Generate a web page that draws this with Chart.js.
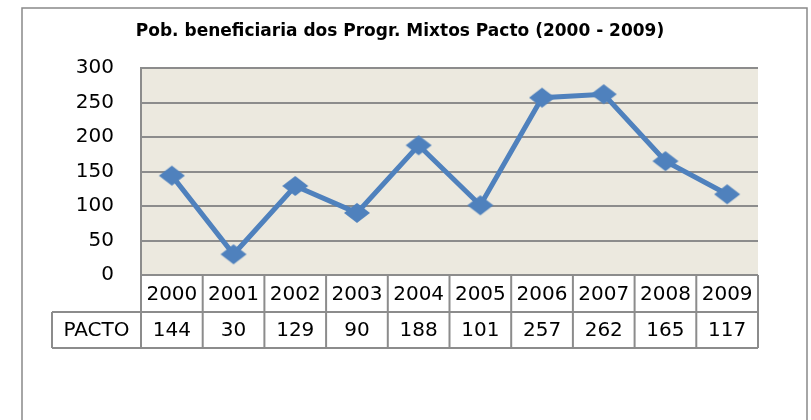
<!DOCTYPE html>
<html>
<head>
<meta charset="utf-8">
<script src="https://cdn.jsdelivr.net/npm/chart.js@4"></script>
<style>
  body { margin: 0; background: #fff; }
  canvas { display: block; }
</style>
</head>
<body>
<canvas id="chart" width="811" height="420"></canvas>
<script>
  const years = ['2000', '2001', '2002', '2003', '2004', '2005', '2006', '2007', '2008', '2009'];
  const pacto = [144, 30, 129, 90, 188, 101, 257, 262, 165, 117];
  const seriesName = 'PACTO';
  const yTicks = [0, 50, 100, 150, 200, 250, 300];
  const chartTitle = 'Pob. beneficiaria dos Progr. Mixtos Pacto (2000 - 2009)';

  const blue = '#4F81BD';
  const gridGrey = '#8c8c8c';
  const tableFont = '20px "DejaVu Sans"';

  // flattened diamond marker like the Excel one
  const diamond = document.createElement('canvas');
  diamond.width = 28;
  diamond.height = 22;
  {
    const c = diamond.getContext('2d');
    c.fillStyle = blue;
    c.beginPath();
    c.moveTo(14, 1);
    c.lineTo(27, 11);
    c.lineTo(14, 21);
    c.lineTo(1, 11);
    c.closePath();
    c.fill();
  }

  // outer frame, plot background and the title (centred on the whole frame, not the plot)
  const frame = {
    id: 'frame',
    beforeDraw(chart) {
      const { ctx, chartArea: a } = chart;
      ctx.save();
      ctx.strokeStyle = '#898989';
      ctx.lineWidth = 1.5;
      ctx.strokeRect(22, 8, 785, 500);
      ctx.fillStyle = '#ECE9DF';
      ctx.fillRect(a.left, a.top, a.right - a.left, a.bottom - a.top);
      ctx.fillStyle = '#000';
      ctx.font = 'bold 17px "DejaVu Sans"';
      ctx.textAlign = 'center';
      ctx.textBaseline = 'middle';
      ctx.fillText(chartTitle, 400, 32);
      ctx.restore();
    }
  };

  // data table under the plot, columns taken from the category scale
  const dataTable = {
    id: 'dataTable',
    afterDraw(chart) {
      const { ctx, chartArea: a } = chart;
      const xs = chart.scales.x;
      const w = (a.right - a.left) / years.length;
      const r1 = a.bottom, r2 = a.bottom + 37, r3 = a.bottom + 73;
      const labelLeft = 52;
      ctx.save();
      ctx.strokeStyle = gridGrey;
      ctx.lineWidth = 2;
      ctx.beginPath();
      ctx.moveTo(a.left, r1); ctx.lineTo(a.right, r1);
      ctx.moveTo(labelLeft, r2); ctx.lineTo(a.right, r2);
      ctx.moveTo(labelLeft, r3); ctx.lineTo(a.right, r3);
      ctx.moveTo(labelLeft, r2); ctx.lineTo(labelLeft, r3);
      for (let i = 0; i < years.length; i++) {
        const b = xs.getPixelForValue(i) - w / 2;
        ctx.moveTo(b, r1); ctx.lineTo(b, r3);
      }
      ctx.moveTo(a.right, r1); ctx.lineTo(a.right, r3);
      ctx.stroke();

      ctx.fillStyle = '#000';
      ctx.font = tableFont;
      ctx.textAlign = 'center';
      ctx.textBaseline = 'middle';
      years.forEach((y, i) => {
        const cx = xs.getPixelForValue(i);
        ctx.fillText(y, cx, (r1 + r2) / 2 + 1);
        ctx.fillText(String(pacto[i]), cx, (r2 + r3) / 2 + 1);
      });
      ctx.fillText(seriesName, (labelLeft + a.left) / 2, (r2 + r3) / 2 + 1);
      ctx.restore();
    }
  };

  new Chart(document.getElementById('chart'), {
    type: 'line',
    data: {
      labels: years,
      datasets: [{
        label: seriesName,
        data: pacto,
        borderColor: blue,
        borderWidth: 5,
        pointStyle: diamond,
        pointRadius: 11,
        pointHoverRadius: 11,
        tension: 0
      }]
    },
    options: {
      responsive: false,
      animation: false,
      layout: { padding: { left: 0, right: 53, top: 68, bottom: 0 } },
      plugins: {
        legend: { display: false },
        tooltip: { enabled: false },
        title: { display: false }
      },
      scales: {
        x: {
          offset: true,
          ticks: { display: false },
          grid: { display: false },
          border: { display: false },
          afterFit: s => { s.height = 145; }
        },
        y: {
          min: 0,
          max: 300,
          afterBuildTicks: s => { s.ticks = yTicks.map(v => ({ value: v })); },
          ticks: {
            color: '#000',
            padding: 27,
            font: { family: '"DejaVu Sans"', size: 20 }
          },
          grid: { color: gridGrey, lineWidth: 2, drawTicks: false },
          border: { color: gridGrey, width: 2 },
          afterFit: s => { s.width = 141; }
        }
      }
    },
    plugins: [frame, dataTable]
  });
</script>
</body>
</html>
